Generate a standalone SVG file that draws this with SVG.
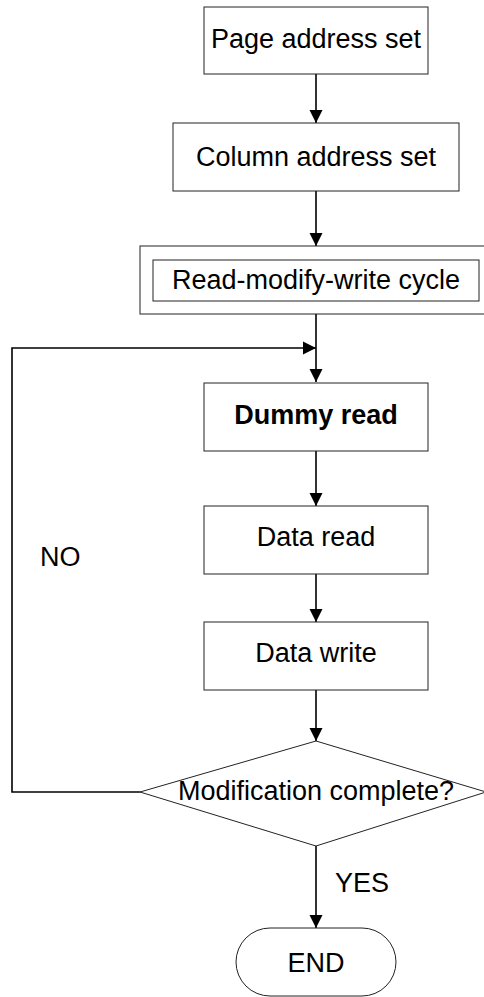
<svg xmlns="http://www.w3.org/2000/svg" width="484" height="997" viewBox="0 0 484 997">
<defs>
<marker id="arr" markerUnits="userSpaceOnUse" markerWidth="14" markerHeight="14" viewBox="0 0 14 14" refX="13" refY="7" orient="auto">
<path d="M0,0.5 L13,7 L0,13.5 Z" fill="#000"/>
</marker>
<style>
.box{fill:#fff;stroke:#222;stroke-width:1}
.t{font-family:"Liberation Sans",Arial,sans-serif;font-size:27px;fill:#000;text-anchor:middle}
.b{font-weight:bold}
.c{fill:none;stroke:#000;stroke-width:1.6}
</style>
</defs>
<g id="connectors">
<line class="c" x1="316" y1="74" x2="316" y2="123" marker-end="url(#arr)"/>
<line class="c" x1="316" y1="191" x2="316" y2="246" marker-end="url(#arr)"/>
<line class="c" x1="316" y1="314" x2="316" y2="382" marker-end="url(#arr)"/>
<polyline class="c" points="140,792 12,792 12,348 316,348" marker-end="url(#arr)"/>
<line class="c" x1="316" y1="451" x2="316" y2="506" marker-end="url(#arr)"/>
<line class="c" x1="316" y1="574" x2="316" y2="622" marker-end="url(#arr)"/>
<line class="c" x1="316" y1="690" x2="316" y2="741" marker-end="url(#arr)"/>
<line class="c" x1="316" y1="846" x2="316" y2="928" marker-end="url(#arr)"/>
<text class="t" x="40" y="566" text-anchor="start" style="text-anchor:start">NO</text>
<text class="t" x="335" y="892" style="text-anchor:start">YES</text>
</g>
<g id="page">
<rect class="box" x="204" y="7" width="224" height="67"/>
<text class="t" x="316" y="48">Page address set</text>
</g>
<g id="column">
<rect class="box" x="173" y="123" width="286" height="68"/>
<text class="t" x="316" y="166">Column address set</text>
</g>
<g id="rmw">
<rect class="box" x="140" y="246" width="350" height="68"/>
<rect class="box" x="153" y="260" width="326" height="41"/>
<text class="t" x="316" y="289">Read-modify-write cycle</text>
</g>
<g id="dummy">
<rect class="box" x="204" y="383" width="224" height="68"/>
<text class="t b" x="316" y="424">Dummy read</text>
</g>
<g id="dataread">
<rect class="box" x="204" y="506" width="224" height="68"/>
<text class="t" x="316" y="546">Data read</text>
</g>
<g id="datawrite">
<rect class="box" x="204" y="622" width="224" height="68"/>
<text class="t" x="316" y="662">Data write</text>
</g>
<g id="decision">
<polygon class="box" points="316,741 486,792 316,846 140,792"/>
<text class="t" x="316" y="800">Modification complete?</text>
</g>
<g id="end">
<rect class="box" x="236" y="928" width="160" height="68" rx="34" ry="34"/>
<text class="t" x="316" y="972">END</text>
</g>
</svg>
